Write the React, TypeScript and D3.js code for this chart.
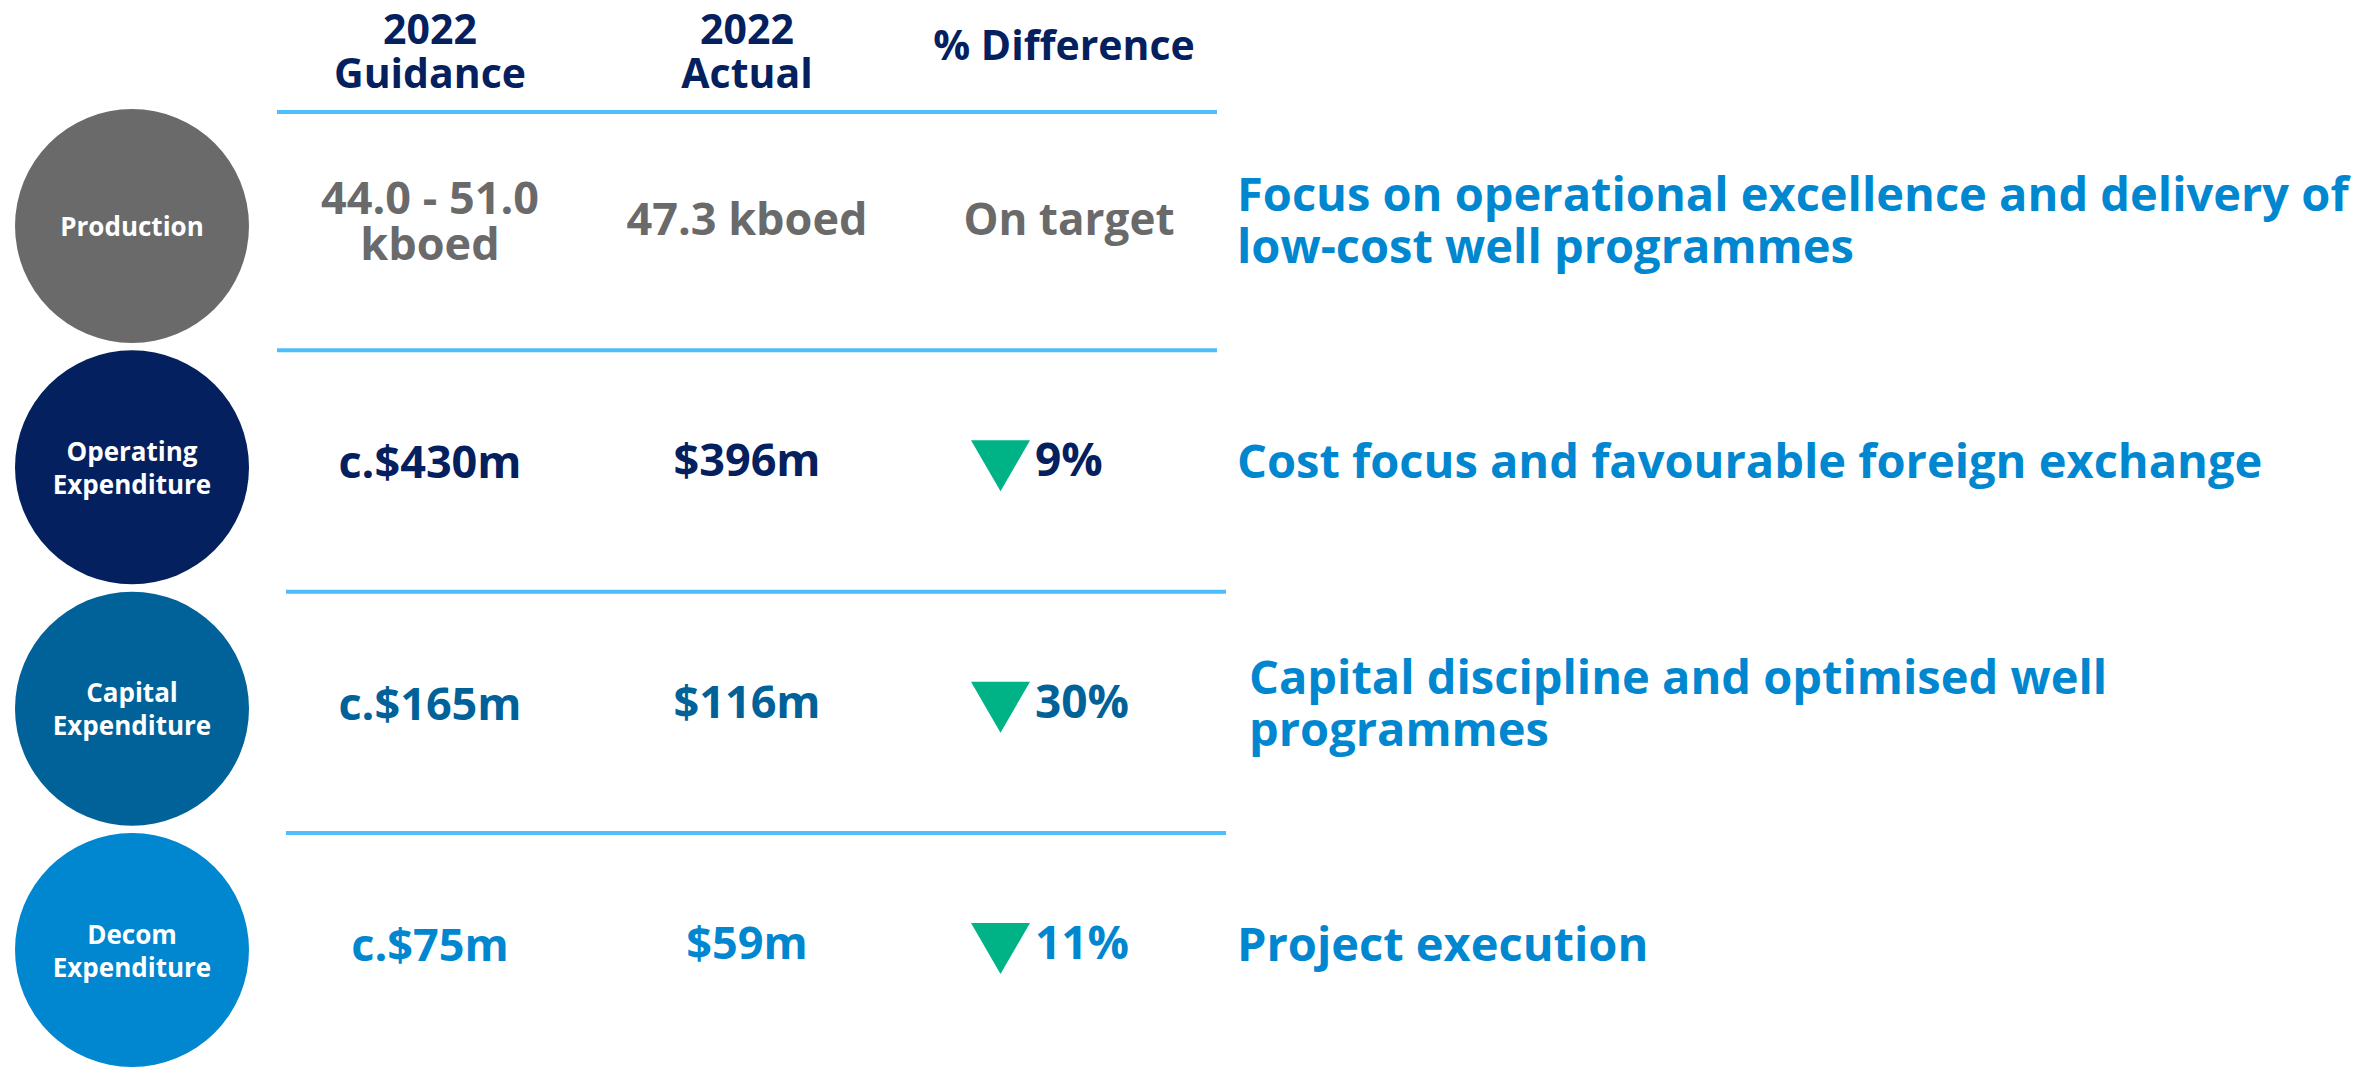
import React from "react";
import * as d3 from "d3";

const headers: string[][] = [["2022", "Guidance"], ["2022", "Actual"], ["% Difference"]];
const categories: string[][] = [["Production"], ["Operating", "Expenditure"], ["Capital", "Expenditure"], ["Decom", "Expenditure"]];
const guidance: string[][] = [["44.0 - 51.0", "kboed"], ["c.$430m"], ["c.$165m"], ["c.$75m"]];
const actual: string[] = ["47.3 kboed", "$396m", "$116m", "$59m"];
const difference: string[] = ["On target", "9%", "30%", "11%"];
const direction: (string | null)[] = [null, "down", "down", "down"];
const commentary: string[][] = [
  ["Focus on operational excellence and delivery of", "low-cost well programmes"],
  ["Cost focus and favourable foreign exchange"],
  ["Capital discipline and optimised well", "programmes"],
  ["Project execution"],
];
const rowColors: string[] = ["#6A6A6B", "#05205E", "#006299", "#0087D0"];

const W = 2374;
const H = 1069;
const FONT = "'Open Sans', 'Liberation Sans', Arial, sans-serif";
const NAVY = "#05205E";
const LINE = "#4DBEFA";
const GREEN = "#00B386";
const BLUE = "#0087D0";

export default function App() {
  const y = d3.scaleLinear().domain([0, 3]).range([226, 950]);
  const col = d3.scaleLinear().domain([0, 2]).range([430, 1064]);
  const R = 117;
  const cx = 132;

  const tri = (cy: number) => {
    const p = d3.path();
    p.moveTo(971, cy - 27);
    p.lineTo(1030, cy - 27);
    p.lineTo(1000.5, cy + 24);
    p.closePath();
    return p.toString();
  };

  return (
    <svg width={W} height={H} style={{ position: "absolute", left: 0, top: 0, background: "#fff" }} fontFamily={FONT}>
      {/* headers */}
      {headers.map((lines, c) => (
        <text key={"h" + c} x={col(c)} textAnchor="middle" fontSize={41} fontWeight={700} fill={NAVY}>
          {lines.map((l, k) => (
            <tspan key={k} x={col(c)} y={lines.length === 1 ? 60 : 44 + k * 44}>
              {l}
            </tspan>
          ))}
        </text>
      ))}

      {categories.map((cat, i) => {
        const cy = y(i);
        const color = rowColors[i];
        const off = i >= 2 ? 9 : 0;
        const lineY = i === 0 ? 112 : cy - R;
        return (
          <g key={i}>
            <line x1={277 + off} x2={1217 + off} y1={lineY} y2={lineY} stroke={LINE} strokeWidth={4} />
            <circle cx={cx} cy={cy} r={R} fill={color} />
            <text textAnchor="middle" fontSize={26} fontWeight={700} fill="#fff">
              {cat.map((l, k) => (
                <tspan key={k} x={cx} y={cy + 10 + (k - (cat.length - 1) / 2) * 33}>
                  {l}
                </tspan>
              ))}
            </text>
            <text textAnchor="middle" fontSize={45} fontWeight={700} fill={color}>
              {guidance[i].map((l, k) => (
                <tspan key={k} x={col(0)} y={cy + 11 + (k - (guidance[i].length - 1) / 2) * 46}>
                  {l}
                </tspan>
              ))}
            </text>
            <text x={col(1)} y={cy + 9} textAnchor="middle" fontSize={45} fontWeight={700} fill={color}>
              {actual[i]}
            </text>
            {direction[i] === "down" ? (
              <>
                <path d={tri(cy)} fill={GREEN} />
                <text x={1035} y={cy + 9} textAnchor="start" fontSize={46} fontWeight={700} fill={color}>
                  {difference[i]}
                </text>
              </>
            ) : (
              <text x={1069} y={cy + 9} textAnchor="middle" fontSize={44} fontWeight={700} fill={color}>
                {difference[i]}
              </text>
            )}
            <text fontSize={47} fontWeight={700} fill={BLUE}>
              {commentary[i].map((l, k) => (
                <tspan key={k} x={i === 2 ? 1249 : 1237} y={cy + 11 + (k - (commentary[i].length - 1) / 2) * 52}>
                  {l}
                </tspan>
              ))}
            </text>
          </g>
        );
      })}
    </svg>
  );
}
